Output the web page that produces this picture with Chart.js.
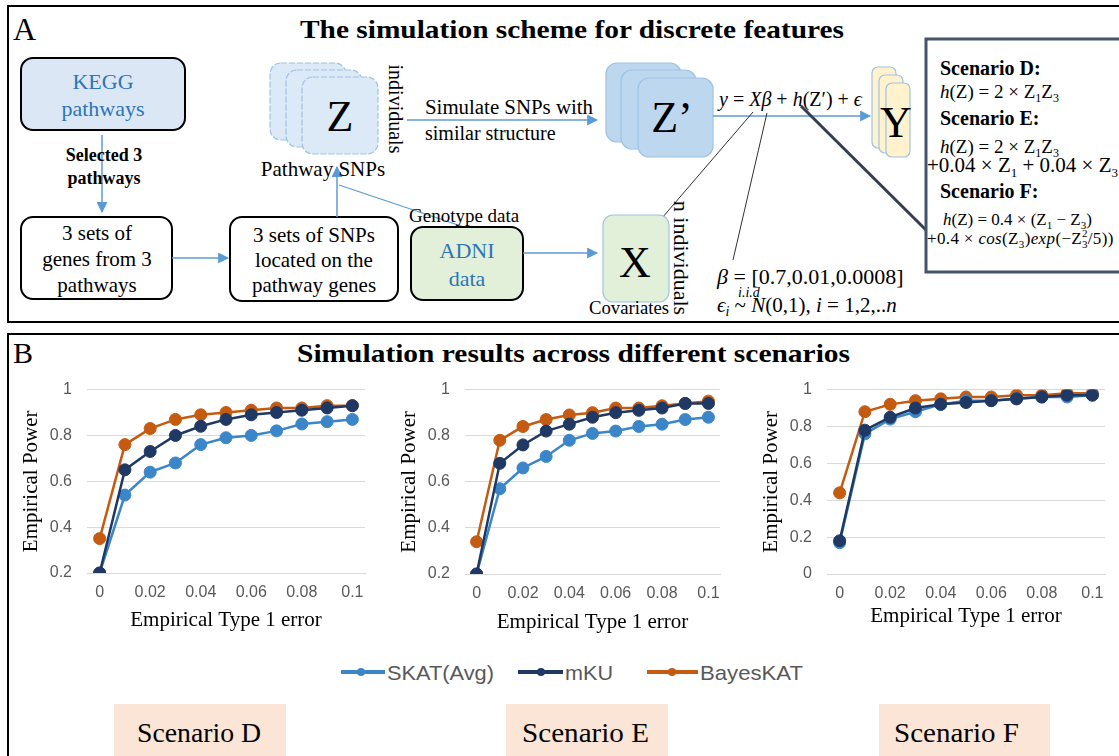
<!DOCTYPE html>
<html>
<head>
<meta charset="utf-8">
<title>BayesKAT simulation scheme and results</title>
<script src="https://cdn.jsdelivr.net/npm/chart.js"></script>
<style>
  body { margin: 0; background: #fff; width: 1119px; height: 756px; overflow: hidden; position: relative; font-family: "Liberation Serif", serif; }
  svg { position: absolute; left: 0; top: 0; }
  canvas { position: absolute; }
  .lbl { font-family: "Liberation Sans", sans-serif; fill: #595959; }
</style>
</head>
<body>
<svg width="1119" height="756" viewBox="0 0 1119 756" font-family="Liberation Serif, serif">
  <defs>
    <marker id="ah" viewBox="0 0 10 10" refX="9" refY="5" markerWidth="11" markerHeight="11" markerUnits="userSpaceOnUse" orient="auto">
      <path d="M0,0 L10,5 L0,10 z" fill="#5b9bd5"/>
    </marker>
  </defs>

  <!-- panel A -->
  <rect x="8" y="6" width="1125" height="316" fill="none" stroke="#000" stroke-width="2"/>
  <text x="13" y="40" font-size="32">A</text>
  <text x="300" y="38" font-size="25" font-weight="bold" textLength="544" lengthAdjust="spacingAndGlyphs">The simulation scheme for discrete features</text>

  <rect x="21" y="58" width="164" height="72" rx="12" fill="#dbe7f5" stroke="#000" stroke-width="2"/>
  <text x="103" y="89" font-size="22" fill="#2e75b6" text-anchor="middle">KEGG</text>
  <text x="103" y="116" font-size="22" fill="#2e75b6" text-anchor="middle">pathways</text>
  <line x1="102" y1="135" x2="102" y2="212" stroke="#5b9bd5" stroke-width="1.5" marker-end="url(#ah)"/>
  <text x="104" y="161" font-size="18" font-weight="bold" text-anchor="middle">Selected 3</text>
  <text x="104" y="184" font-size="18" font-weight="bold" text-anchor="middle">pathways</text>

  <rect x="21" y="217" width="151" height="82" rx="12" fill="#fff" stroke="#000" stroke-width="2"/>
  <text x="97" y="240" font-size="21" text-anchor="middle">3 sets of</text>
  <text x="97" y="266" font-size="21" text-anchor="middle">genes from 3</text>
  <text x="97" y="292" font-size="21" text-anchor="middle">pathways</text>
  <line x1="172" y1="258" x2="228" y2="258" stroke="#5b9bd5" stroke-width="1.5" marker-end="url(#ah)"/>

  <rect x="230" y="217" width="168" height="84" rx="12" fill="#fff" stroke="#000" stroke-width="2"/>
  <text x="314" y="242" font-size="21" text-anchor="middle">3 sets of SNPs</text>
  <text x="314" y="267" font-size="21" text-anchor="middle">located on the</text>
  <text x="314" y="292" font-size="21" text-anchor="middle">pathway genes</text>
  <line x1="337" y1="217" x2="337" y2="167" stroke="#5b9bd5" stroke-width="1.5" marker-end="url(#ah)"/>
  <line x1="339" y1="185" x2="464" y2="227" stroke="#5b9bd5" stroke-width="1.2"/>
  <text x="409" y="222" font-size="19">Genotype data</text>

  <rect x="411" y="227" width="112" height="73" rx="12" fill="#e2efd9" stroke="#000" stroke-width="2"/>
  <text x="467" y="258" font-size="22" fill="#2e75b6" text-anchor="middle">ADNI</text>
  <text x="467" y="286" font-size="22" fill="#2e75b6" text-anchor="middle">data</text>
  <line x1="523" y1="253" x2="597" y2="253" stroke="#5b9bd5" stroke-width="1.5" marker-end="url(#ah)"/>

  <!-- Z stack -->
  <rect x="270" y="63" width="76" height="77" rx="11" fill="#dce9f6" stroke="#9dc3e6" stroke-width="1.2" stroke-dasharray="6 2"/>
  <rect x="286" y="70" width="76" height="77" rx="11" fill="#dce9f6" stroke="#9dc3e6" stroke-width="1.2" stroke-dasharray="6 2"/>
  <rect x="302" y="77" width="76" height="77" rx="11" fill="#dce9f6" stroke="#9dc3e6" stroke-width="1.2" stroke-dasharray="6 2"/>
  <text x="340" y="131" font-size="44" text-anchor="middle">Z</text>
  <text transform="translate(389,109) rotate(90)" font-size="20" text-anchor="middle">individuals</text>
  <text x="323" y="176" font-size="21" text-anchor="middle">Pathway SNPs</text>

  <line x1="407" y1="120" x2="597" y2="120" stroke="#5b9bd5" stroke-width="1.5" marker-end="url(#ah)"/>
  <text x="425" y="114" font-size="20" textLength="168" lengthAdjust="spacingAndGlyphs">Simulate SNPs with</text>
  <text x="425" y="140" font-size="20">similar structure</text>

  <!-- Z' stack -->
  <rect x="606" y="63" width="75" height="79" rx="11" fill="#bdd7ee" stroke="#9dc3e6" stroke-width="1.2"/>
  <rect x="621" y="70" width="75" height="79" rx="11" fill="#bdd7ee" stroke="#9dc3e6" stroke-width="1.2"/>
  <rect x="638" y="78" width="75" height="79" rx="11" fill="#bdd7ee" stroke="#9dc3e6" stroke-width="1.2"/>
  <text x="672" y="132" font-size="44" text-anchor="middle">Z’</text>

  <line x1="713" y1="116" x2="870" y2="116" stroke="#5b9bd5" stroke-width="1.5" marker-end="url(#ah)"/>
  <text x="719" y="106" font-size="20"><tspan font-style="italic">y</tspan> = <tspan font-style="italic">Xβ</tspan> + <tspan font-style="italic">h</tspan>(Z′) + <tspan font-style="italic">ϵ</tspan></text>

  <!-- Y stack -->
  <rect x="872" y="67" width="24" height="81" rx="6" fill="#fff2cc" stroke="#9dc3e6" stroke-width="1.2"/>
  <rect x="879" y="75" width="24" height="78" rx="6" fill="#fff2cc" stroke="#9dc3e6" stroke-width="1.2"/>
  <rect x="886" y="83" width="24" height="74" rx="6" fill="#fff2cc" stroke="#9dc3e6" stroke-width="1.2"/>
  <text x="896" y="137" font-size="44" text-anchor="middle">Y</text>

  <line x1="753" y1="112" x2="662" y2="218" stroke="#333" stroke-width="1"/>
  <line x1="767" y1="113" x2="733" y2="260" stroke="#333" stroke-width="1"/>
  <line x1="801" y1="106" x2="926" y2="230" stroke="#333f50" stroke-width="3"/>

  <!-- X box -->
  <rect x="603" y="215" width="66" height="87" rx="10" fill="#e2efd9" stroke="#9dc3e6" stroke-width="1.2"/>
  <text x="635" y="277" font-size="44" text-anchor="middle">X</text>
  <text x="589" y="314" font-size="18" textLength="80" lengthAdjust="spacingAndGlyphs">Covariates</text>
  <text transform="translate(674,258) rotate(90)" font-size="22" text-anchor="middle">n individuals</text>

  <text x="717" y="284" font-size="22"><tspan font-style="italic">β</tspan> = [0.7,0.01,0.0008]</text>
  <text x="717" y="312" font-size="21"><tspan font-style="italic">ϵ</tspan><tspan font-size="14" font-style="italic" dy="4">i</tspan><tspan dy="-4"> ~ </tspan><tspan font-style="italic">N</tspan>(0,1), <tspan font-style="italic">i</tspan> = 1,2,..<tspan font-style="italic">n</tspan></text>
  <text x="738" y="297" font-size="14" font-style="italic">i.i.d</text>

  <!-- scenario formulas -->
  <rect x="926" y="39" width="205" height="233" fill="#fff" stroke="#44546a" stroke-width="3"/>
  <text x="940" y="75" font-size="20" font-weight="bold">Scenario D:</text>
  <text x="940" y="98" font-size="19"><tspan font-style="italic">h</tspan>(Z) = 2 × Z<tspan font-size="12" dy="4">1</tspan><tspan dy="-4">Z</tspan><tspan font-size="12" dy="4">3</tspan></text>
  <text x="940" y="125" font-size="20" font-weight="bold">Scenario E:</text>
  <text x="940" y="153" font-size="19"><tspan font-style="italic">h</tspan>(Z) = 2 × Z<tspan font-size="12" dy="4">1</tspan><tspan dy="-4">Z</tspan><tspan font-size="12" dy="4">3</tspan></text>
  <text x="927" y="172" font-size="21">+0.04 × Z<tspan font-size="13" dy="5">1</tspan><tspan dy="-5"> + 0.04 × Z</tspan><tspan font-size="13" dy="5">3</tspan></text>
  <text x="940" y="198" font-size="20" font-weight="bold">Scenario F:</text>
  <text x="943" y="225" font-size="17"><tspan font-style="italic">h</tspan>(Z) = 0.4 × (Z<tspan font-size="11" dy="4">1</tspan><tspan dy="-4"> − Z</tspan><tspan font-size="11" dy="4">3</tspan><tspan dy="-4">)</tspan></text>
  <text x="927" y="244" font-size="17" letter-spacing="0.35">+0.4 × <tspan font-style="italic">cos</tspan>(Z<tspan font-size="11" dy="4">3</tspan><tspan dy="-4">)</tspan><tspan font-style="italic">exp</tspan>(−Z<tspan font-size="11" dy="4">3</tspan><tspan font-size="11" dy="-11" dx="-6">2</tspan><tspan dy="7">/5))</tspan></text>

  <!-- panel B -->
  <rect x="8" y="334" width="1125" height="440" fill="none" stroke="#000" stroke-width="2"/>
  <text x="13" y="363" font-size="30">B</text>
  <text x="297" y="362" font-size="25" font-weight="bold" textLength="553" lengthAdjust="spacingAndGlyphs">Simulation results across different scenarios</text>

  <!-- legend -->
  <line x1="341" y1="672" x2="385" y2="672" stroke="#3a86c8" stroke-width="4"/>
  <circle cx="361" cy="672" r="4" fill="#3a86c8"/>
  <text class="lbl" x="387" y="680" font-size="21" textLength="107" lengthAdjust="spacingAndGlyphs">SKAT(Avg)</text>
  <line x1="518" y1="672" x2="563" y2="672" stroke="#1f3864" stroke-width="4"/>
  <circle cx="541" cy="672" r="4" fill="#1f3864"/>
  <text class="lbl" x="565" y="680" font-size="21" textLength="48" lengthAdjust="spacingAndGlyphs">mKU</text>
  <line x1="647" y1="672" x2="698" y2="672" stroke="#c55a11" stroke-width="4"/>
  <circle cx="672" cy="672" r="4" fill="#c55a11"/>
  <text class="lbl" x="700" y="680" font-size="21" textLength="103" lengthAdjust="spacingAndGlyphs">BayesKAT</text>

  <!-- scenario labels -->
  <rect x="114" y="704" width="172" height="60" fill="#fbe5d6"/>
  <text x="137" y="742" font-size="27" textLength="124" lengthAdjust="spacingAndGlyphs">Scenario D</text>
  <rect x="506" y="704" width="162" height="60" fill="#fbe5d6"/>
  <text x="522" y="742" font-size="27" textLength="127" lengthAdjust="spacingAndGlyphs">Scenario E</text>
  <rect x="879" y="704" width="171" height="60" fill="#fbe5d6"/>
  <text x="894" y="742" font-size="27" textLength="125" lengthAdjust="spacingAndGlyphs">Scenario F</text>
</svg>

<canvas id="chartD" width="365" height="275" style="left:10px;top:365px"></canvas>
<canvas id="chartE" width="342" height="275" style="left:388px;top:365px"></canvas>
<canvas id="chartF" width="365" height="275" style="left:750px;top:365px"></canvas>

<script>
// x categories (empirical type 1 error) and the labels Excel printed
const errorLevels = ['0', '0.01', '0.02', '0.03', '0.04', '0.05', '0.06', '0.07', '0.08', '0.09', '0.1'];
const shownTicks = ['0', '0.02', '0.04', '0.06', '0.08', '0.1'];

// Scenario D
const skatD  = [0.20, 0.54, 0.64, 0.68, 0.76, 0.79, 0.80, 0.82, 0.85, 0.86, 0.87];
const mkuD   = [0.20, 0.65, 0.73, 0.80, 0.84, 0.87, 0.89, 0.90, 0.91, 0.92, 0.93];
const bayesD = [0.35, 0.76, 0.83, 0.87, 0.89, 0.90, 0.91, 0.92, 0.92, 0.93, 0.93];

// Scenario E
const skatE  = [0.20, 0.57, 0.66, 0.71, 0.78, 0.81, 0.82, 0.84, 0.85, 0.87, 0.88];
const mkuE   = [0.20, 0.68, 0.76, 0.82, 0.85, 0.88, 0.90, 0.91, 0.92, 0.94, 0.94];
const bayesE = [0.34, 0.78, 0.84, 0.87, 0.89, 0.90, 0.92, 0.92, 0.93, 0.94, 0.95];

// Scenario F
const skatF  = [0.17, 0.76, 0.84, 0.88, 0.92, 0.94, 0.94, 0.95, 0.96, 0.96, 0.97];
const mkuF   = [0.18, 0.78, 0.85, 0.90, 0.92, 0.93, 0.94, 0.95, 0.96, 0.97, 0.97];
const bayesF = [0.44, 0.88, 0.92, 0.94, 0.95, 0.96, 0.96, 0.97, 0.97, 0.98, 0.98];

const skatColor = '#3a86c8';
const mkuColor = '#1f3864';
const bayesColor = '#c55a11';

function series(label, data, color, order) {
  return {
    label: label, data: data, order: order,
    borderColor: color, backgroundColor: color,
    pointBackgroundColor: color, pointBorderColor: color,
    borderWidth: 2.5, pointRadius: 6, pointBorderWidth: 1, tension: 0
  };
}

function drawScenario(id, yMin, skat, mku, bayes, top, xHeight, xTitlePad) {
  new Chart(document.getElementById(id), {
    type: 'line',
    data: {
      labels: errorLevels,
      datasets: [
        series('SKAT(Avg)', skat, skatColor, 1),
        series('mKU', mku, mkuColor, 0),
        series('BayesKAT', bayes, bayesColor, 2)
      ]
    },
    options: {
      responsive: false,
      animation: false,
      devicePixelRatio: 1,
      layout: { padding: { top: top, right: 10, left: 0, bottom: 0 } },
      plugins: { legend: { display: false }, tooltip: { enabled: false } },
      scales: {
        x: {
          offset: true,
          grid: { display: false, drawTicks: false },
          border: { display: true, color: '#d9d9d9' },
          ticks: {
            autoSkip: false, maxRotation: 0, padding: 10, color: '#595959',
            font: { family: 'Liberation Sans', size: 16 },
            callback: (v, i) => shownTicks.includes(errorLevels[i]) ? errorLevels[i] : ''
          },
          title: {
            display: true, text: 'Empirical Type 1 error', color: '#000',
            font: { family: 'Liberation Serif', size: 21 },
            padding: { top: 0, bottom: xTitlePad }
          },
          afterFit: s => { s.height = xHeight; }
        },
        y: {
          min: yMin, max: 1,
          grid: { color: '#d9d9d9', drawTicks: false },
          border: { display: false },
          ticks: {
            stepSize: 0.2, padding: 15, color: '#595959',
            font: { family: 'Liberation Sans', size: 16 },
            callback: v => String(+v.toFixed(1))
          },
          title: {
            display: true, text: 'Empirical Power', color: '#000',
            font: { family: 'Liberation Serif', size: 21 },
            padding: { top: 9, bottom: 0 }
          },
          afterFit: s => { s.width = 77; }
        }
      }
    }
  });
}

drawScenario('chartD', 0.2, skatD, mkuD, bayesD, 14, 67, 7);
drawScenario('chartE', 0.2, skatE, mkuE, bayesE, 22, 66, 5);
drawScenario('chartF', 0, skatF, mkuF, bayesF, 22, 66, 11);
</script>
</body>
</html>
